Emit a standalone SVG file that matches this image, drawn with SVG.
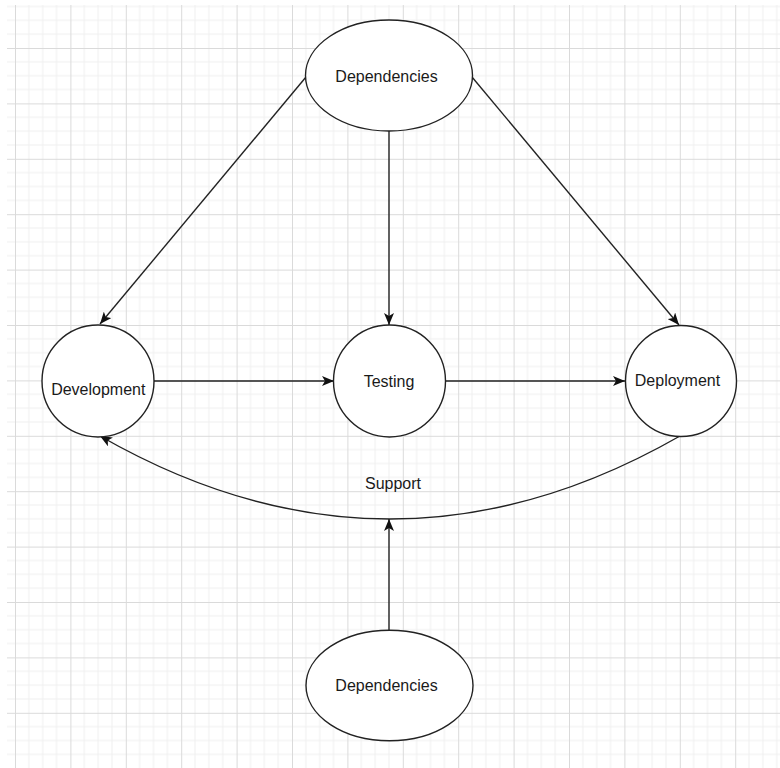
<svg xmlns="http://www.w3.org/2000/svg" width="780" height="768" viewBox="0 0 780 768">
<defs>
<pattern id="grid" patternUnits="userSpaceOnUse" x="15" y="48" width="55.4" height="55.4">
<path d="M13.85,0 V55.4 M27.7,0 V55.4 M41.55,0 V55.4 M0,13.85 H55.4 M0,27.7 H55.4 M0,41.55 H55.4" stroke="#efefef" stroke-width="1" fill="none"/>
<path d="M0.5,0 V55.4 M0,0.5 H55.4" stroke="#dadada" stroke-width="1" fill="none"/>
</pattern>
<marker id="arrow" markerUnits="userSpaceOnUse" viewBox="0 0 12 10" markerWidth="12" markerHeight="10" refX="12" refY="5" orient="auto">
<path d="M0,0 L12,5 L0,10 L3,5 z" fill="#111"/>
</marker>
</defs>
<style>
.node { fill: #ffffff; stroke: #222; stroke-width: 1.4; }
.edge { fill: none; stroke: #222; stroke-width: 1.4; }
.lbl { font-family: "Liberation Sans", Arial, sans-serif; font-size: 16px; fill: #1a1a1a; text-anchor: middle; }
</style>
<rect x="0" y="0" width="780" height="768" fill="#ffffff"/>
<rect x="7" y="5" width="773" height="763" fill="url(#grid)"/>
<g id="connectors">
<path class="edge" d="M306,77 L100,324" marker-end="url(#arrow)"/>
<path class="edge" d="M389,131 L389,325" marker-end="url(#arrow)"/>
<path class="edge" d="M472,77 L679,325" marker-end="url(#arrow)"/>
<path class="edge" d="M154,381 L334,381" marker-end="url(#arrow)"/>
<path class="edge" d="M445,381 L625,381" marker-end="url(#arrow)"/>
<path class="edge" d="M680,436 Q390,602 100,436" marker-end="url(#arrow)"/>
<path class="edge" d="M389,630 L389,519" marker-end="url(#arrow)"/>
<text class="lbl" x="393" y="489">Support</text>
</g>
<g id="dependencies-top">
<ellipse class="node" cx="389" cy="75.5" rx="83.5" ry="55.5"/>
<text class="lbl" x="386.5" y="81.5">Dependencies</text>
</g>
<g id="development">
<circle class="node" cx="98" cy="381" r="56"/>
<text class="lbl" x="98.3" y="395">Development</text>
</g>
<g id="testing">
<circle class="node" cx="389.5" cy="381" r="56"/>
<text class="lbl" x="389" y="386.5">Testing</text>
</g>
<g id="deployment">
<circle class="node" cx="681" cy="381" r="55.5"/>
<text class="lbl" x="677.5" y="386">Deployment</text>
</g>
<g id="dependencies-bottom">
<ellipse class="node" cx="389.5" cy="685.5" rx="83.5" ry="55.3"/>
<text class="lbl" x="386.5" y="691">Dependencies</text>
</g>
</svg>
